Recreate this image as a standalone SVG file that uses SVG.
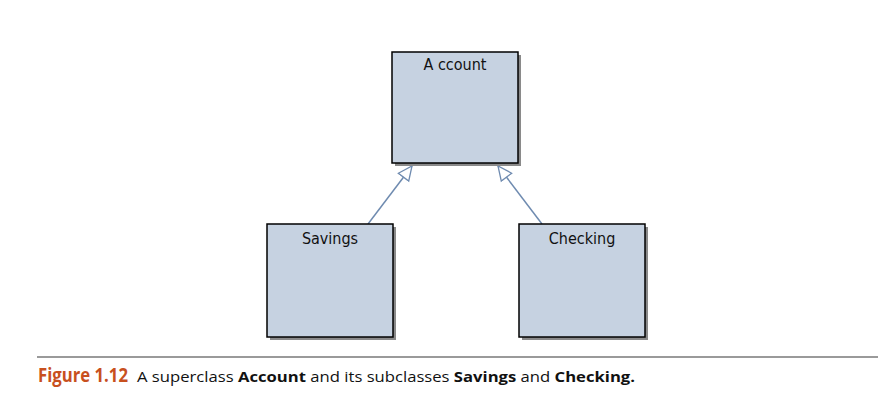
<svg xmlns="http://www.w3.org/2000/svg" width="886" height="417" viewBox="0 0 886 417">
<style>
.box{fill:#c6d2e1;stroke:#000;stroke-width:1.5}
.shadow{fill:#8a8a8a}
.lbl{font-family:"DejaVu Sans Condensed","DejaVu Sans",sans-serif;font-size:16px;fill:#111;text-anchor:middle}
.conn{stroke:#6f8bb0;stroke-width:1.5;fill:none}
.cap{font-family:"Open Sans","Noto Sans",sans-serif;font-size:15px;fill:#111}
</style>
<defs>
<marker id="tri" viewBox="0 0 16 16" refX="15" refY="8" markerWidth="16" markerHeight="16" markerUnits="userSpaceOnUse" orient="auto">
<path d="M1,1.5 L15,8 L1,14.5 Z" fill="#fff" stroke="#6f8bb0" stroke-width="1.3"/>
</marker>
</defs>
<rect width="886" height="417" fill="#fff"/>
<g id="connectors">
<line class="conn" x1="368" y1="224" x2="412" y2="166" marker-end="url(#tri)"/>
<line class="conn" x1="542" y1="224" x2="498" y2="166" marker-end="url(#tri)"/>
</g>
<g id="account">
<rect class="shadow" x="395" y="55" width="126" height="111"/>
<rect class="box" x="392" y="52" width="126" height="111"/>
<text class="lbl" x="455" y="70">A ccount</text>
</g>
<g id="savings">
<rect class="shadow" x="270" y="227" width="126" height="113"/>
<rect class="box" x="267" y="224" width="126" height="113"/>
<text class="lbl" x="330" y="244">Savings</text>
</g>
<g id="checking">
<rect class="shadow" x="522" y="227" width="126" height="113"/>
<rect class="box" x="519" y="224" width="126" height="113"/>
<text class="lbl" x="582" y="244">Checking</text>
</g>
<line x1="37" y1="357" x2="878" y2="357" stroke="#9a9a9a" stroke-width="2"/>
<text x="38" y="382" font-family="'Open Sans','Noto Sans',sans-serif" font-weight="bold" font-size="19" fill="#c8501e" textLength="90" lengthAdjust="spacingAndGlyphs">Figure 1.12</text>
<text class="cap" x="137" y="382" textLength="498" lengthAdjust="spacingAndGlyphs">A superclass <tspan font-weight="bold">Account</tspan> and its subclasses <tspan font-weight="bold">Savings</tspan> and <tspan font-weight="bold">Checking.</tspan></text>
</svg>
